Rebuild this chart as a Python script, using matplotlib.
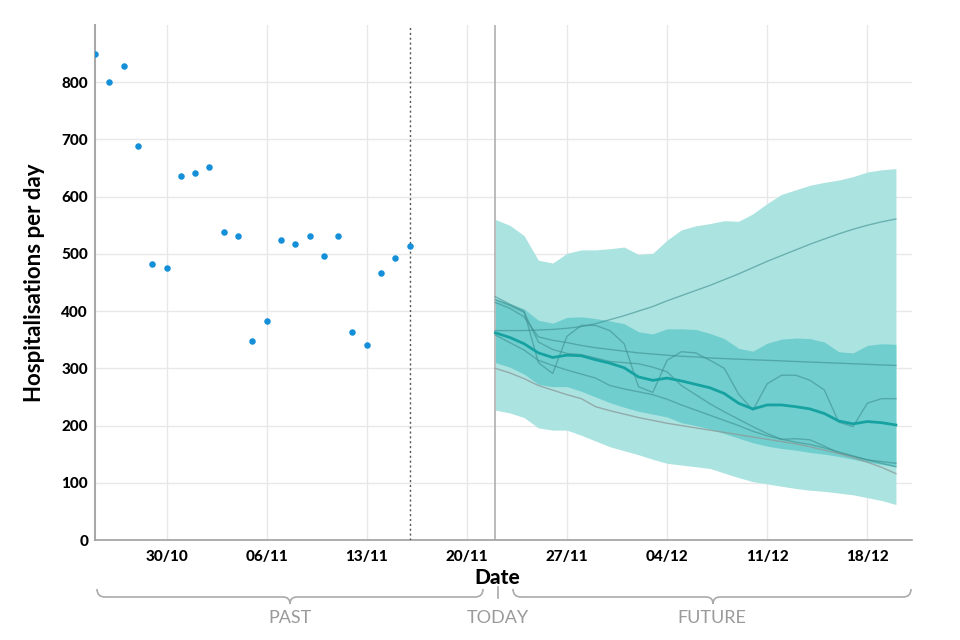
import numpy as np
import pandas as pd
import matplotlib
matplotlib.use("Agg")
import matplotlib.pyplot as plt
from matplotlib.path import Path
from matplotlib.patches import PathPatch
import matplotlib.dates as mdates

plt.rcParams['font.family'] = ['Lato', 'DejaVu Sans']

# observed hospitalisations, 25/10 .. 16/11
past_dates = pd.date_range('2020-10-25', periods=23)
past_vals = [849, 800, 828, 688, 482, 476, 636, 641, 651, 539, 531, 347, 382,
             524, 517, 531, 497, 531, 364, 340, 466, 492, 513]

# forecast, 22/11 .. 20/12
fut_dates = pd.date_range('2020-11-22', periods=29)
outer_hi = [560, 550, 532, 489, 484, 501, 507, 507, 509, 512, 499, 501, 524, 542,
            549, 553, 558, 557, 570, 588, 604, 612, 620, 625, 629, 635, 643, 647, 649]
outer_lo = [227, 222, 214, 196, 192, 192, 183, 173, 163, 156, 149, 141, 134, 131,
            128, 125, 117, 109, 102, 98, 94, 90, 87, 85, 82, 79, 74, 69, 62]
inner_hi = [422, 413, 404, 384, 379, 389, 390, 387, 383, 378, 364, 360, 369, 369,
            368, 361, 352, 335, 330, 344, 351, 353, 352, 346, 329, 327, 340, 343, 342]
inner_lo = [310, 302, 290, 272, 268, 268, 260, 250, 240, 232, 225, 220, 215, 205,
            200, 194, 186, 178, 170, 164, 160, 157, 153, 150, 146, 141, 136, 132, 128]
median = [362, 354, 343, 327, 319, 323, 322, 315, 309, 301, 285, 279, 283, 278,
          272, 266, 256, 239, 229, 236, 236, 233, 229, 221, 208, 203, 207, 205, 201]

# individual scenario trajectories
scen_rise = [366, 366, 366, 367, 368, 370, 373, 378, 385, 392, 400, 408, 418, 427,
             436, 445, 455, 465, 476, 487, 497, 507, 517, 526, 535, 543, 550, 556, 561]
scen_flat = [415, 405, 390, 355, 349, 345, 340, 336, 333, 330, 327, 325, 323, 321,
             320, 318, 317, 316, 315, 314, 313, 312, 311, 310, 309, 308, 307, 306, 305]
scen_wave = [425, 412, 400, 310, 291, 356, 375, 375, 366, 343, 268, 258, 314, 329,
             327, 314, 300, 255, 227, 273, 288, 288, 279, 262, 206, 198, 239, 247, 247]
scen_mid = [420, 410, 398, 346, 333, 326, 324, 318, 312, 310, 308, 302, 294, 270,
            254, 238, 224, 211, 198, 186, 176, 177, 175, 164, 152, 146, 140, 137, 134]
scen_down = [358, 345, 332, 314, 305, 297, 290, 283, 270, 264, 259, 254, 246, 236,
             227, 218, 209, 200, 190, 182, 176, 171, 167, 161, 154, 147, 140, 134, 128]
scen_low = [300, 292, 282, 270, 262, 254, 247, 233, 226, 220, 214, 209, 204, 200,
            196, 192, 188, 184, 180, 176, 172, 168, 163, 157, 151, 144, 136, 127, 116]

y_ticks = [0, 100, 200, 300, 400, 500, 600, 700, 800]
x_ticks = pd.to_datetime(['2020-10-30', '2020-11-06', '2020-11-13', '2020-11-20',
                          '2020-11-27', '2020-12-04', '2020-12-11', '2020-12-18'])
last_obs = pd.Timestamp('2020-11-16')
today = pd.Timestamp('2020-11-22')

fig = plt.figure(figsize=(9.6, 6.4), dpi=100)
ax = fig.add_axes([95 / 960, 1 - 540 / 640, (912 - 95) / 960, (540 - 25) / 640])

ax.fill_between(fut_dates, outer_lo, outer_hi, color='#abe3e1', lw=0, zorder=2)
ax.fill_between(fut_dates, inner_lo, inner_hi, color='#70cfce', lw=0, zorder=3)

for s in [scen_rise, scen_flat, scen_wave, scen_mid, scen_down]:
    ax.plot(fut_dates, s, color='#3f8f8f', lw=1, alpha=0.6, zorder=4)
ax.plot(fut_dates, scen_low, color='#8c9c9c', lw=1, alpha=0.8, zorder=4)
ax.plot(fut_dates, median, color='#17a2a2', lw=2, zorder=5)

ax.scatter(past_dates, past_vals, s=22, color='#1590d8', zorder=6, linewidths=0)

ax.axvline(last_obs, color='#555555', lw=1, ls=(0, (1.5, 2)), zorder=5)
ax.axvline(today, color='#b5b5b5', lw=1.3, zorder=1)

ax.set_xlim(pd.Timestamp('2020-10-25'), pd.Timestamp('2020-12-21 03:00'))
ax.set_ylim(0, 900)
ax.set_yticks(y_ticks)
ax.set_xticks(x_ticks)
ax.xaxis.set_major_formatter(mdates.DateFormatter('%d/%m'))
ax.grid(True, color='#e8e8e8', lw=1, zorder=0)
ax.set_axisbelow(True)
ax.tick_params(length=0, labelsize=11, pad=7)
for lab in ax.get_xticklabels() + ax.get_yticklabels():
    lab.set_fontweight('black')
ax.tick_params(axis='y', pad=5)

for sp in ['top', 'right']:
    ax.spines[sp].set_visible(False)
ax.spines['left'].set_color('#a8a8a8')
ax.spines['left'].set_linewidth(1.5)
ax.spines['bottom'].set_color('#a0a0a0')
ax.spines['bottom'].set_linewidth(1.2)

ax.set_ylabel('Hospitalisations per day', fontsize=16, fontweight='bold', labelpad=12)
fig.text(497 / 960, 1 - 578 / 640, 'Date', fontsize=15, fontweight='black',
         ha='center', va='center')


def px(x, y):
    return (x / 960, 1 - y / 640)


def brace(x0, x1, xm, y, r=8, d=7):
    verts = [px(x0, y - r), px(x0, y), px(x0 + r, y),
             px(xm - d, y), px(xm, y), px(xm, y + d),
             px(xm, y), px(xm + d, y),
             px(x1 - r, y), px(x1, y), px(x1, y - r)]
    codes = [Path.MOVETO, Path.CURVE3, Path.CURVE3,
             Path.LINETO, Path.CURVE3, Path.CURVE3,
             Path.CURVE3, Path.CURVE3,
             Path.LINETO, Path.CURVE3, Path.CURVE3]
    patch = PathPatch(Path(verts, codes), transform=fig.transFigure,
                      fill=False, edgecolor='#aaaaaa', lw=1.2)
    fig.patches.append(patch)


brace(97, 483, 290, 597)
brace(513, 911, 713, 597)
fig.lines.append(plt.Line2D([498 / 960, 498 / 960], [1 - 587 / 640, 1 - 598 / 640],
                            transform=fig.transFigure, color='#aaaaaa', lw=1.2))

for txt, xx in [('PAST', 290), ('TODAY', 498), ('FUTURE', 712)]:
    fig.text(xx / 960, 1 - 618 / 640, txt, fontsize=13, color='#9a9a9a',
             ha='center', va='center')

fig.savefig('out.png', dpi=100)
